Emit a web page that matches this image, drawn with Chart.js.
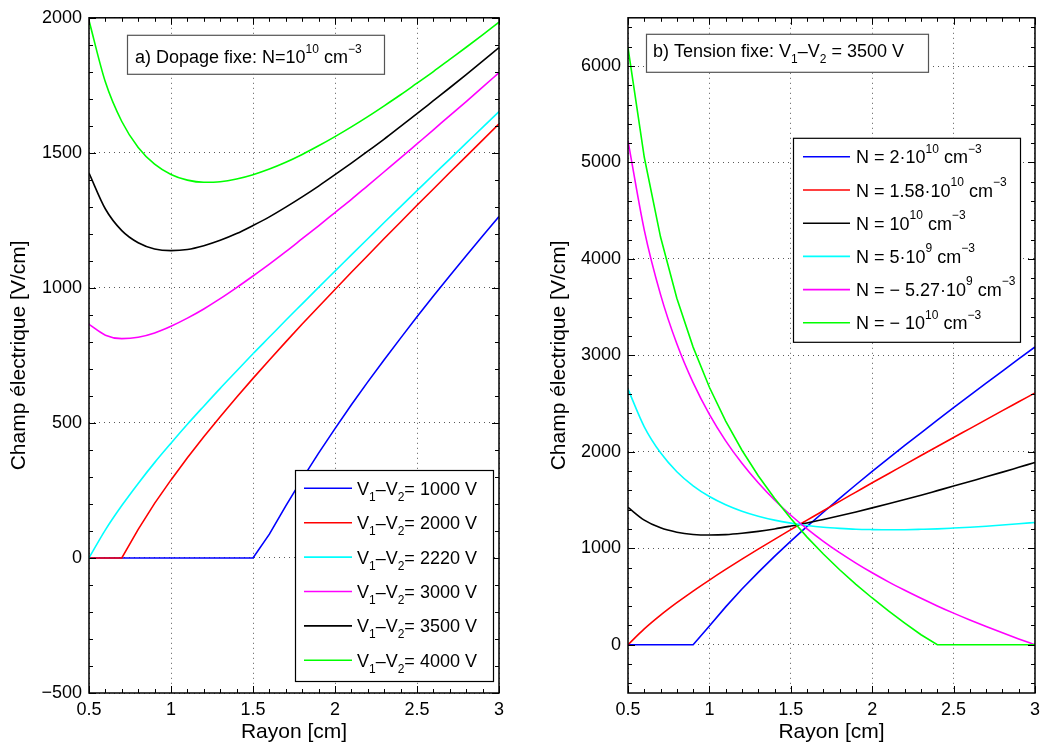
<!DOCTYPE html>
<html>
<head>
<meta charset="utf-8">
<script src="https://cdn.jsdelivr.net/npm/chart.js@4.4.1/dist/chart.umd.min.js"></script>
<style>
body { margin: 0; background: #fff; }
#wrap { position: relative; width: 1046px; height: 749px; }
#chartA { position: absolute; left: 0; top: 0; }
#chartB { position: absolute; left: 520px; top: 0; }
</style>
</head>
<body>
<div id="wrap">
  <canvas id="chartA" width="520" height="749"></canvas>
  <canvas id="chartB" width="526" height="749"></canvas>
</div>
<script>
// rayon en cm (commun aux deux graphes)
const rayon = [0.5, 0.6, 0.7, 0.8, 0.9, 1.0, 1.1, 1.2, 1.3, 1.4, 1.5, 1.6, 1.7,
               1.8, 1.9, 2.0, 2.1, 2.2, 2.3, 2.4, 2.5, 2.6, 2.7, 2.8, 2.9, 3.0];

// a) dopage fixe N = 1e10 cm-3 : champ (V/cm) pour chaque tension
const champ1000 = [0, 0, 0, 0, 0, 0, 0, 0, 0, 0, 0, 88, 193, 293, 388, 479, 567, 652, 734, 814, 893, 970, 1045, 1119, 1192, 1264];
const champ2000 = [0, 0, 0, 106, 202, 289, 371, 449, 523, 595, 665, 733, 800, 866, 930, 994, 1058, 1120, 1183, 1244, 1306, 1366, 1427, 1487, 1547, 1607];
const champ2220 = [0, 104, 194, 276, 353, 425, 495, 562, 628, 692, 756, 818, 880, 941, 1002, 1062, 1122, 1182, 1242, 1301, 1360, 1419, 1477, 1536, 1594, 1653];
const champ3000 = [865, 825, 812, 817, 833, 858, 888, 922, 960, 1001, 1044, 1088, 1134, 1182, 1230, 1279, 1328, 1379, 1430, 1481, 1533, 1585, 1638, 1690, 1743, 1797];
const champ3500 = [1425, 1292, 1212, 1167, 1144, 1138, 1142, 1156, 1176, 1201, 1231, 1263, 1299, 1337, 1377, 1419, 1462, 1506, 1551, 1598, 1645, 1693, 1741, 1790, 1840, 1890];
const champ4000 = [1990, 1762, 1616, 1520, 1458, 1420, 1399, 1391, 1393, 1403, 1419, 1440, 1465, 1494, 1526, 1560, 1596, 1634, 1674, 1715, 1758, 1801, 1846, 1891, 1937, 1984];
const tensions = ['1000', '2000', '2220', '3000', '3500', '4000'];

// b) tension fixe 3500 V : champ (V/cm) pour chaque dopage
const champN2e10 = [0, 0, 0, 0, 0, 195, 393, 578, 751, 916, 1074, 1227, 1374, 1518, 1659, 1797, 1933, 2067, 2198, 2329, 2458, 2585, 2712, 2838, 2963, 3087];
const champN158e10 = [0, 164, 307, 436, 557, 671, 781, 888, 992, 1093, 1194, 1292, 1390, 1487, 1583, 1679, 1773, 1868, 1962, 2055, 2149, 2241, 2334, 2427, 2519, 2611];
const champN1e10 = [1425, 1292, 1212, 1167, 1144, 1138, 1142, 1156, 1176, 1201, 1231, 1263, 1299, 1337, 1377, 1419, 1462, 1506, 1551, 1598, 1645, 1693, 1741, 1790, 1840, 1890];
const champN5e9 = [2650, 2260, 1990, 1794, 1648, 1537, 1452, 1385, 1333, 1292, 1261, 1237, 1219, 1207, 1198, 1194, 1192, 1193, 1197, 1202, 1210, 1219, 1229, 1241, 1254, 1268];
const champNm527e9 = [5225, 4299, 3630, 3120, 2717, 2388, 2114, 1881, 1679, 1501, 1343, 1202, 1073, 955, 847, 746, 652, 565, 482, 403, 328, 257, 189, 124, 61, 0];
const champNm1e10 = [6190, 5054, 4227, 3592, 3086, 2670, 2319, 2017, 1753, 1519, 1308, 1116, 941, 778, 627, 485, 351, 225, 104, 0, 0, 0, 0, 0, 0, 0];
// libellés : [texte, 0 normal / -1 indice / 1 exposant]
const dopages = [
  [['N = 2\u00b710', 0], ['10', 1], [' cm', 0], ['\u22123', 1]],
  [['N = 1.58\u00b710', 0], ['10', 1], [' cm', 0], ['\u22123', 1]],
  [['N = 10', 0], ['10', 1], [' cm', 0], ['\u22123', 1]],
  [['N = 5\u00b710', 0], ['9', 1], [' cm', 0], ['\u22123', 1]],
  [['N = \u2212 5.27\u00b710', 0], ['9', 1], [' cm', 0], ['\u22123', 1]],
  [['N = \u2212 10', 0], ['10', 1], [' cm', 0], ['\u22123', 1]]
];

// graduations
const xTicks = [0.5, 1, 1.5, 2, 2.5, 3];
const yTicksA = [-500, 0, 500, 1000, 1500, 2000];
const yTicksB = [0, 1000, 2000, 3000, 4000, 5000, 6000];

const couleursA = ['#0000ff', '#ff0000', '#00ffff', '#ff00ff', '#000000', '#00ff00'];
const couleursB = ['#0000ff', '#ff0000', '#000000', '#00ffff', '#ff00ff', '#00ff00'];

const police = '"Liberation Sans", Arial, Helvetica, sans-serif';
Chart.defaults.font.family = police;
Chart.defaults.color = '#000';

function points(vals) {
  return vals.map((v, i) => ({x: rayon[i], y: v}));
}

function formatTick(v) {
  return v < 0 ? '\u2212' + Math.abs(v) : String(v);
}

// écrit un texte avec indices / exposants
function texteRiche(ctx, segs, x, y, taille) {
  ctx.textAlign = 'left';
  ctx.textBaseline = 'alphabetic';
  for (const [t, k] of segs) {
    const s = k ? Math.round(taille * 0.66) : taille;
    ctx.font = s + 'px ' + police;
    const dy = k === -1 ? taille * 0.33 : (k === 1 ? -taille * 0.6 : 0);
    ctx.fillText(t, x, y + dy);
    x += ctx.measureText(t).width;
  }
  return x;
}

// cadre façon matlab, avec graduations vers l'intérieur
const cadrePlugin = {
  id: 'cadre',
  afterDatasetsDraw(chart, args, o) {
    const {ctx, chartArea: a, scales: {x, y}} = chart;
    ctx.save();
    ctx.strokeStyle = '#000';
    ctx.lineWidth = 1;
    ctx.beginPath();
    let n = Math.round((x.max - x.min) / o.xMinor);
    for (let i = 0; i <= n; i++) {
      const v = x.min + i * o.xMinor;
      const r = v / o.xMajor;
      const l = Math.abs(r - Math.round(r)) < 1e-6 ? 7 : 4;
      const px = Math.round(x.getPixelForValue(v)) + 0.5;
      ctx.moveTo(px, a.bottom); ctx.lineTo(px, a.bottom - l);
      ctx.moveTo(px, a.top); ctx.lineTo(px, a.top + l);
    }
    const start = Math.ceil(y.min / o.yMinor);
    const end = Math.floor(y.max / o.yMinor);
    for (let k = start; k <= end; k++) {
      const v = k * o.yMinor;
      const l = Math.abs(v % o.yMajor) < 1e-6 ? 7 : 4;
      const py = Math.round(y.getPixelForValue(v)) + 0.5;
      ctx.moveTo(a.left, py); ctx.lineTo(a.left + l, py);
      ctx.moveTo(a.right, py); ctx.lineTo(a.right - l, py);
    }
    ctx.stroke();
    ctx.lineWidth = 1.5;
    ctx.strokeRect(a.left, a.top, a.right - a.left, a.bottom - a.top);
    ctx.restore();
  }
};

const legendePlugin = {
  id: 'legende',
  afterDraw(chart, args, o) {
    const {ctx, chartArea: a} = chart;
    const bx = a.right - o.right - o.width;
    const by = o.bottom != null ? a.bottom - o.bottom - o.height : a.top + o.top;
    ctx.save();
    ctx.fillStyle = '#fff';
    ctx.fillRect(bx, by, o.width, o.height);
    ctx.strokeStyle = '#000';
    ctx.lineWidth = 1.2;
    ctx.strokeRect(bx + 0.5, by + 0.5, o.width, o.height);
    chart.data.datasets.forEach((ds, i) => {
      const ry = by + o.firstRow + i * o.rowGap;
      ctx.strokeStyle = ds.borderColor;
      ctx.lineWidth = ds.borderWidth;
      ctx.beginPath();
      ctx.moveTo(bx + o.lineFrom, ry);
      ctx.lineTo(bx + o.lineTo, ry);
      ctx.stroke();
      ctx.fillStyle = '#000';
      texteRiche(ctx, o.labels[i], bx + o.textX, ry + 6.5, 18);
    });
    ctx.restore();
  }
};

const noteBoxPlugin = {
  id: 'note',
  afterDraw(chart, args, o) {
    const {ctx, chartArea: a} = chart;
    const bx = a.left + o.left, by = a.top + o.top;
    ctx.save();
    ctx.fillStyle = '#fff';
    ctx.fillRect(bx, by, o.width, o.height);
    ctx.strokeStyle = '#555';
    ctx.lineWidth = 1.2;
    ctx.strokeRect(bx + 0.5, by + 0.5, o.width, o.height);
    ctx.fillStyle = '#000';
    texteRiche(ctx, o.text, bx + o.textX, by + o.baseline, 18);
    ctx.restore();
  }
};

function echelles(yMin, yMax, yTicks, yWidth, titlePad) {
  return {
    x: {
      type: 'linear', min: 0.5, max: 3,
      afterBuildTicks: s => { s.ticks = xTicks.map(v => ({value: v})); },
      afterFit: s => { s.height = 56; },
      grid: {color: 'rgba(0,0,0,0.65)', lineWidth: 1, drawTicks: false},
      border: {display: false, dash: [1, 4]},
      ticks: {font: {size: 18}, padding: 6, maxRotation: 0, autoSkip: false, callback: formatTick},
      title: {display: true, text: 'Rayon [cm]', font: {size: 21}, padding: {top: 0, bottom: 4}}
    },
    y: {
      type: 'linear', min: yMin, max: yMax,
      afterBuildTicks: s => { s.ticks = yTicks.map(v => ({value: v})); },
      afterFit: s => { s.width = yWidth; },
      grid: {color: 'rgba(0,0,0,0.65)', lineWidth: 1, drawTicks: false},
      border: {display: false, dash: [1, 4]},
      ticks: {font: {size: 18}, padding: 7, autoSkip: false, callback: formatTick},
      title: {display: true, text: 'Champ \u00e9lectrique [V/cm]', font: {size: 21}, padding: {top: titlePad, bottom: 0}}
    }
  };
}

// les courbes écrêtées à zéro gardent un coude net (segments droits)
function jeux(series, couleurs, ecretees) {
  return series.map((vals, i) => ({
    data: points(vals),
    borderColor: couleurs[i],
    borderWidth: 1.6,
    pointRadius: 0,
    fill: false,
    tension: 0,
    cubicInterpolationMode: ecretees.includes(i) ? 'default' : 'monotone',
    order: series.length - i
  }));
}

new Chart(document.getElementById('chartA'), {
  type: 'line',
  data: {
    datasets: jeux([champ1000, champ2000, champ2220, champ3000, champ3500, champ4000], couleursA, [0, 1])
  },
  options: {
    responsive: false,
    animation: false,
    layout: {padding: {left: 0, right: 21, top: 16, bottom: 0}},
    scales: echelles(-500, 2000, yTicksA, 89, 6.5),
    plugins: {
      legend: {display: false},
      tooltip: {enabled: false},
      cadre: {xMinor: 0.1, xMajor: 0.5, yMinor: 100, yMajor: 500},
      legende: {
        right: 6, bottom: 12, width: 198, height: 211,
        firstRow: 18.3, rowGap: 34.4, lineFrom: 9, lineTo: 57, textX: 62,
        labels: tensions.map(v => [['V', 0], ['1', -1], ['\u2013V', 0], ['2', -1], ['= ' + v + ' V', 0]])
      },
      note: {
        left: 38, top: 17, width: 257, height: 39, textX: 8, baseline: 28.5,
        text: [['a) Dopage fixe: N=10', 0], ['10', 1], [' cm', 0], ['\u22123', 1]]
      }
    }
  },
  plugins: [cadrePlugin, legendePlugin, noteBoxPlugin]
});

new Chart(document.getElementById('chartB'), {
  type: 'line',
  data: {
    datasets: jeux([champN2e10, champN158e10, champN1e10, champN5e9, champNm527e9, champNm1e10], couleursB, [0, 5])
  },
  options: {
    responsive: false,
    animation: false,
    layout: {padding: {left: 0, right: 9, top: 16, bottom: 0}},
    scales: echelles(-500, 6500, yTicksB, 108, 26.5),
    plugins: {
      legend: {display: false},
      tooltip: {enabled: false},
      cadre: {xMinor: 0.1, xMajor: 0.5, yMinor: 200, yMajor: 1000},
      legende: {
        right: 15, top: 120, width: 227, height: 204,
        firstRow: 19, rowGap: 33.2, lineFrom: 10, lineTo: 57, textX: 63,
        labels: dopages
      },
      note: {
        left: 18, top: 16, width: 282, height: 38, textX: 7, baseline: 23.5,
        text: [['b) Tension fixe: V', 0], ['1', -1], ['\u2013V', 0], ['2', -1], [' = 3500 V', 0]]
      }
    }
  },
  plugins: [cadrePlugin, legendePlugin, noteBoxPlugin]
});
</script>
</body>
</html>
